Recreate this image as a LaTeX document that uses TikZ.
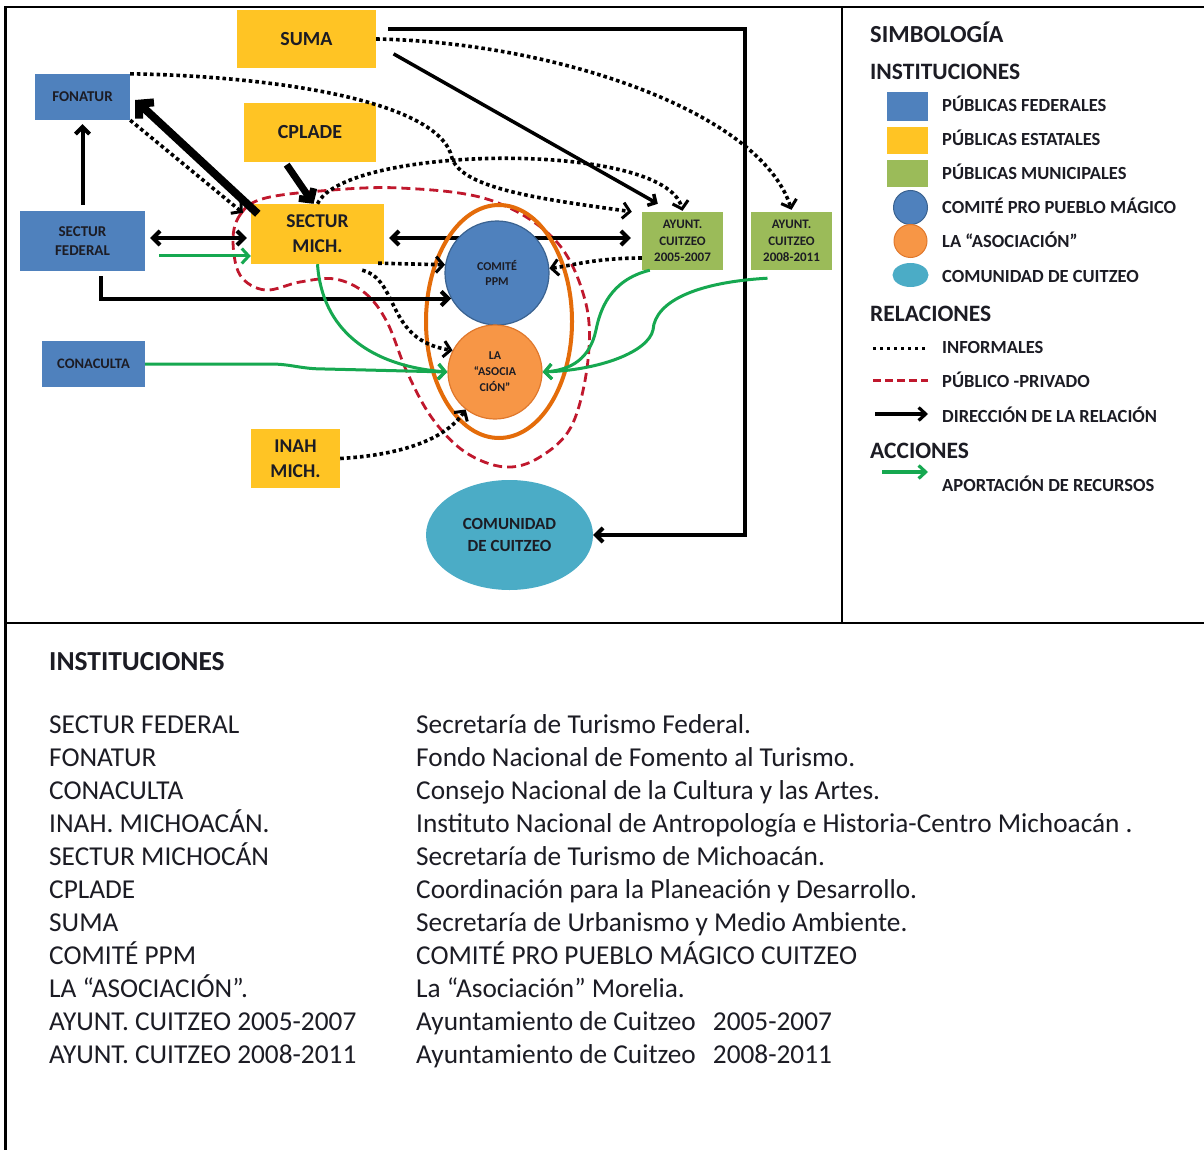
\documentclass[tikz,border=0pt]{standalone}
\usepackage{fontspec}
\setmainfont{Carlito}
\usetikzlibrary{arrows.meta,shapes.geometric,backgrounds}

\definecolor{fedblue}{HTML}{4F81BD}
\definecolor{estyel}{HTML}{FFC424}
\definecolor{mungreen}{HTML}{9BBB59}
\definecolor{ppmedge}{HTML}{3A6290}
\definecolor{asocor}{HTML}{F79646}
\definecolor{asocedge}{HTML}{E0782C}
\definecolor{ringor}{HTML}{E46C0A}
\definecolor{comcyan}{HTML}{4BACC6}
\definecolor{pubred}{HTML}{C0182D}
\definecolor{resgreen}{HTML}{16A850}
\definecolor{txtdark}{HTML}{1C1C24}

\newcommand\fsz[2]{\fontsize{#1}{#2}\selectfont}

\tikzset{
  inst/.style={rectangle, inner sep=0pt, align=center, text=txtdark},
  fedbox/.style={inst, fill=fedblue},
  estbox/.style={inst, fill=estyel},
  munbox/.style={inst, fill=mungreen},
  rel/.style={draw=black, line width=4pt, -{Straight Barb[length=7pt,width=14pt]}},
  relboth/.style={draw=black, line width=4pt, {Straight Barb[length=7pt,width=14pt]}-{Straight Barb[length=7pt,width=14pt]}},
  inf/.style={draw=black, line width=3.6pt, dash pattern=on 3.6pt off 3pt, -{Straight Barb[length=7pt,width=16pt,line width=3pt]}},
  res/.style={draw=resgreen, line width=3pt, -{Straight Barb[length=7pt,width=15pt]}},
  pp/.style={draw=pubred, line width=2.8pt, dash pattern=on 9pt off 5pt},
  legtxt/.style={anchor=base west, inner sep=0pt, text=txtdark, font=\fsz{18.5}{22}\bfseries},
  leghead/.style={anchor=base west, inner sep=0pt, text=txtdark, font=\fsz{23.5}{28}\bfseries},
  listtxt/.style={anchor=base west, inner sep=0pt, text=txtdark, font=\fsz{27.3}{32}},
}

\begin{document}
\begin{tikzpicture}[x=1pt,y=-1pt]
\useasboundingbox (0,0) rectangle (1204,1150);

% ---------- institutions ----------
\node[estbox, minimum width=139pt, minimum height=58pt, font=\fsz{20}{24}\bfseries] (suma) at (306.5,39) {SUMA};
\node[fedbox, minimum width=95pt, minimum height=46pt, font=\fsz{15}{18}\bfseries] (fonatur) at (82.5,97) {FONATUR};
\node[estbox, minimum width=132pt, minimum height=59pt, font=\fsz{20}{24}\bfseries] (cplade) at (310,132.5) {CPLADE};
\node[estbox, minimum width=133pt, minimum height=60pt, font=\fsz{19.5}{25}\bfseries] (secmich) at (317.5,234) {SECTUR\\MICH.};
\node[fedbox, minimum width=125pt, minimum height=60pt, font=\fsz{15}{19}\bfseries] (secfed) at (82.5,241) {SECTUR\\FEDERAL};
\node[fedbox, minimum width=103pt, minimum height=46pt, font=\fsz{14.5}{18}\bfseries] (conaculta) at (93.5,364) {CONACULTA};
\node[estbox, minimum width=89pt, minimum height=59pt, font=\fsz{19.5}{25}\bfseries] (inah) at (295.5,458.5) {INAH\\MICH.};
\node[munbox, minimum width=81pt, minimum height=58pt, font=\fsz{13}{16.5}\bfseries] (ay05) at (682.5,241) {AYUNT.\\CUITZEO\\2005-2007};
\node[munbox, minimum width=81pt, minimum height=58pt, font=\fsz{13}{16.5}\bfseries] (ay08) at (791.5,241) {AYUNT.\\CUITZEO\\2008-2011};

\begin{pgfonlayer}{background}
  \fill[white] (0,0) rectangle (1204,1150);
  % frame
  \draw[line width=2.5pt] (5.5,1150) -- (5.5,7) -- (1204,7);
  \draw[line width=2pt] (841.5,7) -- (841.5,623);
  \draw[line width=2.5pt] (5.5,623) -- (1204,623);
  % public-private blob
  \draw[pp] plot[smooth cycle, tension=0.6] coordinates {
    (233,240) (240,215) (262,199) (320,191) (400,188) (490,200) (555,240)
    (585,300) (588,360) (572,425) (540,457) (505,467) (465,452) (432,418)
    (407,372) (387,322) (365,293) (335,279) (300,282) (265,290) (240,275)};
  % SECTUR MICH <-> AYUNT 2005
  \draw[relboth, shorten <=5pt, shorten >=11pt] (secmich.east |- 0,238) -- (ay05.west |- 0,238);
\end{pgfonlayer}

\node[ellipse, draw=ringor, line width=4pt, minimum width=146pt, minimum height=233pt, inner sep=0pt] (ring) at (499,321.5) {};
\node[circle, fill=fedblue, draw=ppmedge, line width=1.2pt, minimum size=104pt, inner sep=0pt, align=center, text=txtdark, font=\fsz{12}{15}\bfseries] (comite) at (497,273) {COMITÉ\\PPM};
\node[circle, fill=asocor, draw=asocedge, line width=1.2pt, minimum size=94pt, inner sep=0pt, align=center, text=txtdark, font=\fsz{12}{16}\bfseries] (asoc) at (495,372) {LA\\“ASOCIA\\CIÓN”};
\node[ellipse, fill=comcyan, minimum width=167pt, minimum height=110pt, inner sep=0pt, align=center, text=txtdark, font=\fsz{17}{22}\bfseries] (comunidad) at (509.5,535) {COMUNIDAD\\DE CUITZEO};

% ---------- solid relations ----------
\draw[relboth, shorten <=5pt, shorten >=4pt] (secfed.east |- 0,238) -- (secmich.west |- 0,238);
\draw[rel, shorten <=6pt, shorten >=4pt] (secfed.north) -- (fonatur.south);
\draw[line width=8pt, -{Straight Barb[length=10pt,width=22pt]}] ([shift={(7,10)}]secmich.north west) -- ([shift={(5,3)}]fonatur.east);
\draw[line width=7pt, -{Straight Barb[length=8pt,width=18pt]}, shorten <=3pt] ([xshift=-25pt]cplade.south) -- ([xshift=-4pt]secmich.north);
\draw[rel, shorten <=5pt] ([xshift=18pt]secfed.south) |- (comite.209);
\draw[line width=3.5pt, -{Straight Barb[length=6pt,width=13pt]}, shorten <=20pt] ([yshift=-5pt]suma.east) -- ([shift={(16,-8)}]ay05.north west);
\coordinate (sumacorner) at (745,29);
\draw[rel, shorten <=12pt] ([yshift=10pt]suma.east) -- (sumacorner) |- (comunidad.east);

% ---------- informal relations ----------
\draw[inf] (fonatur.south east) -- ([shift={(-8,9)}]secmich.north west);
\draw[inf] (fonatur.north east) .. controls (270,76) and (440,100) .. (452,158) .. controls (462,190) and (550,200) .. ([xshift=-10pt]ay05.north west);
\draw[inf] (suma.east) .. controls (550,42) and (760,110) .. ([yshift=2pt]ay08.north);
\draw[inf] (secmich.north) .. controls (345,145) and (665,140) .. ([yshift=1pt]ay05.north);
\draw[inf] ([shift={(-6,-1)}]secmich.south east) -- (comite.171);
\draw[inf] ([shift={(-22,6)}]secmich.south east) .. controls (400,280) and (385,340) .. (asoc.153);
\draw[inf] ([yshift=-17pt]ay05.west) .. controls (595,258) and (570,266) .. (comite.5);
\draw[inf] (inah.east) .. controls (400,455) and (445,440) .. (asoc.232);

% ---------- resources ----------
\draw[res, shorten <=14pt] (secfed.east |- 0,256) -- (secmich.west |- 0,256);
\draw[res] (secmich.south) .. controls (322,330) and (370,366) .. (asoc.west);
\draw[res] (conaculta.east) -- (270,364) .. controls (292,364) and (300,369) .. (325,369) -- (asoc.west);
\draw[res] ([xshift=8pt]ay05.south west) .. controls (610,280) and (600,310) .. (596,330) .. controls (590,358) and (572,370) .. (asoc.east);
\draw[res] ([shift={(-24,8)}]ay08.south) .. controls (700,282) and (655,300) .. (653,330) .. controls (648,352) and (600,370) .. (asoc.east);

% ---------- legend ----------
\node[leghead, font=\fsz{24.5}{28}\bfseries] (lsimb) at (870,43) {SIMBOLOGÍA};
\node[leghead] (linst) at (870,80) {INSTITUCIONES};
\node[fill=fedblue, minimum width=41pt, minimum height=29pt, inner sep=0pt] (kfed) at (907.5,106.5) {};
\node[fill=estyel, minimum width=41pt, minimum height=27pt, inner sep=0pt] (kest) at (907.5,140.5) {};
\node[fill=mungreen, minimum width=41pt, minimum height=27pt, inner sep=0pt] (kmun) at (907.5,173.5) {};
\node[circle, fill=fedblue, draw=ppmedge, line width=1pt, minimum size=34pt, inner sep=0pt] (kppm) at (910.5,207.5) {};
\node[circle, fill=asocor, draw=asocedge, line width=1pt, minimum size=33pt, inner sep=0pt] (kasoc) at (910.5,241) {};
\node[ellipse, fill=comcyan, minimum width=36pt, minimum height=24pt, inner sep=0pt] (kcom) at (910.5,275) {};
\node[legtxt] (tfed) at (942,112) {PÚBLICAS FEDERALES};
\node[legtxt] (test) at (942,146) {PÚBLICAS ESTATALES};
\node[legtxt] (tmun) at (942,180) {PÚBLICAS MUNICIPALES};
\node[legtxt] (tppm) at (942,214) {COMITÉ PRO PUEBLO MÁGICO};
\node[legtxt] (tasoc) at (942,248) {LA “ASOCIACIÓN”};
\node[legtxt] (tcom) at (942,282.5) {COMUNIDAD DE CUITZEO};
\node[leghead] (lrel) at (870,321) {RELACIONES};
\draw[line width=3pt, dash pattern=on 3pt off 4pt] (873,348) -- (928,348);
\node[legtxt] (tinf) at (942,353) {INFORMALES};
\draw[draw=pubred, line width=2.8pt, dash pattern=on 8pt off 4pt] (873,380.5) -- (928,380.5);
\node[legtxt] (tpp) at (942,387.5) {PÚBLICO -PRIVADO};
\draw[line width=3.2pt, -{Straight Barb[length=7pt,width=13pt]}] (875,414) -- (928,414);
\node[legtxt] (tdir) at (942,422) {DIRECCIÓN DE LA RELACIÓN};
\node[leghead] (lacc) at (870,458) {ACCIONES};
\draw[draw=resgreen, line width=3.2pt, -{Straight Barb[length=7pt,width=13pt]}] (882,472) -- (928,472);
\node[legtxt] (tapo) at (942,491) {APORTACIÓN DE RECURSOS};

% ---------- list ----------
\node[anchor=base west, inner sep=0pt, text=txtdark, font=\fsz{27.5}{32}\bfseries] (lhead) at (49,670) {INSTITUCIONES};
\node[listtxt] (a1) at (49,733) {SECTUR FEDERAL};
\node[listtxt] (b1) at (416,733) {Secretaría de Turismo Federal.};
\node[listtxt] (a2) at (49,766) {FONATUR};
\node[listtxt] (b2) at (416,766) {Fondo Nacional de Fomento al Turismo.};
\node[listtxt] (a3) at (49,799) {CONACULTA};
\node[listtxt] (b3) at (416,799) {Consejo Nacional de la Cultura y las Artes.};
\node[listtxt] (a4) at (49,832) {INAH. MICHOACÁN.};
\node[listtxt] (b4) at (416,832) {Instituto Nacional de Antropología e Historia-Centro Michoacán .};
\node[listtxt] (a5) at (49,865) {SECTUR MICHOCÁN};
\node[listtxt] (b5) at (416,865) {Secretaría de Turismo de Michoacán.};
\node[listtxt] (a6) at (49,898) {CPLADE};
\node[listtxt] (b6) at (416,898) {Coordinación para la Planeación y Desarrollo.};
\node[listtxt] (a7) at (49,931) {SUMA};
\node[listtxt] (b7) at (416,931) {Secretaría de Urbanismo y Medio Ambiente.};
\node[listtxt] (a8) at (49,964) {COMITÉ PPM};
\node[listtxt] (b8) at (416,964) {COMITÉ PRO PUEBLO MÁGICO CUITZEO};
\node[listtxt] (a9) at (49,997) {LA “ASOCIACIÓN”.};
\node[listtxt] (b9) at (416,997) {La “Asociación” Morelia.};
\node[listtxt] (a10) at (49,1030) {AYUNT. CUITZEO 2005-2007};
\node[listtxt] (b10) at (416,1030) {Ayuntamiento de Cuitzeo\hspace{0.4em} 2005-2007};
\node[listtxt] (a11) at (49,1063) {AYUNT. CUITZEO 2008-2011};
\node[listtxt] (b11) at (416,1063) {Ayuntamiento de Cuitzeo\hspace{0.4em} 2008-2011};
\end{tikzpicture}
\end{document}
